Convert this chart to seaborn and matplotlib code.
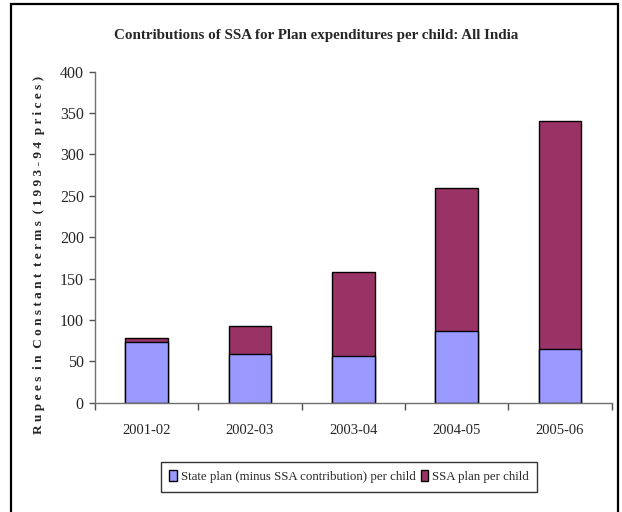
import numpy as np
import pandas as pd
import matplotlib
matplotlib.use("Agg")
import matplotlib.pyplot as plt
from matplotlib.patches import Rectangle, Patch
from matplotlib.ticker import FixedLocator
import seaborn as sns

# Plan expenditure per child, rupees at 1993-94 prices
years = ["2001-02", "2002-03", "2003-04", "2004-05", "2005-06"]
state_plan = [73, 59, 56, 87, 65]
ssa_plan = [5, 34, 102, 173, 275]
y_ticks = [0, 50, 100, 150, 200, 250, 300, 350, 400]

title = "Contributions of SSA for Plan expenditures per child: All India"
y_label = "Rupees in Constant terms (1993-94 prices)"
state_label = "State plan (minus SSA contribution) per child"
ssa_label = "SSA plan per child"

STATE_COLOR = "#9999FF"
SSA_COLOR = "#993366"

sns.set_theme(style="white")
plt.rcParams["font.family"] = ["Liberation Serif", "DejaVu Serif"]

df = pd.DataFrame({"year": years, "state": state_plan, "ssa": ssa_plan})
df["total"] = df["state"] + df["ssa"]

fig = plt.figure(figsize=(6.22, 5.12), dpi=100)
ax = fig.add_axes([0.1527, 0.2135, 0.8307, 0.6465])

# stacked bars: full height in SSA colour, state share drawn over it
sns.barplot(data=df, x="year", y="total", color=SSA_COLOR, width=0.41,
            edgecolor="black", linewidth=1.0, saturation=1, ax=ax)
sns.barplot(data=df, x="year", y="state", color=STATE_COLOR, width=0.41,
            edgecolor="black", linewidth=1.0, saturation=1, ax=ax)

ax.set_xlim(-0.5, len(years) - 0.5)
ax.set_ylim(0, 400)
ax.set_yticks(y_ticks)
ax.set_xlabel("")
ax.set_ylabel("")

for side in ("top", "right"):
    ax.spines[side].set_visible(False)
for side in ("left", "bottom"):
    ax.spines[side].set_color("#707070")
    ax.spines[side].set_linewidth(1.0)

ax.tick_params(axis="y", which="major", direction="out", length=4, width=1,
               color="#505050", labelsize=11.5, pad=4, left=True)
ax.tick_params(axis="x", which="major", length=0, labelsize=10.5, pad=15)
ax.xaxis.set_minor_locator(FixedLocator(np.arange(-0.5, len(years), 1.0)))
ax.tick_params(axis="x", which="minor", direction="out", length=5, width=1,
               color="#505050", bottom=True)

spaced = "  ".join(" ".join(word) for word in y_label.split(" "))
fig.text(0.062, 0.502, spaced, rotation=90, ha="center", va="center",
         fontsize=9.5, fontweight="bold")

fig.text(0.508, 0.931, title, ha="center", va="center",
         fontsize=10.8, fontweight="bold")

handles = [Patch(facecolor=STATE_COLOR, edgecolor="black", linewidth=1.0),
           Patch(facecolor=SSA_COLOR, edgecolor="black", linewidth=1.0)]
leg = fig.legend(handles, [state_label, ssa_label], loc="center",
                 bbox_to_anchor=(0.561, 0.0693), ncol=2, frameon=True,
                 fancybox=False, fontsize=9.3, handlelength=0.6,
                 handleheight=1.0, handletextpad=0.3, columnspacing=0.4,
                 borderpad=0.65, borderaxespad=0)
leg.get_frame().set_edgecolor("black")
leg.get_frame().set_linewidth(1.0)

# outer chart frame
fig.patches.append(Rectangle((11 / 622, -0.01), 607 / 622, 1 - 4 / 512 + 0.01,
                             transform=fig.transFigure, fill=False,
                             edgecolor="black", linewidth=1.6))

fig.savefig("out.png", dpi=100)
